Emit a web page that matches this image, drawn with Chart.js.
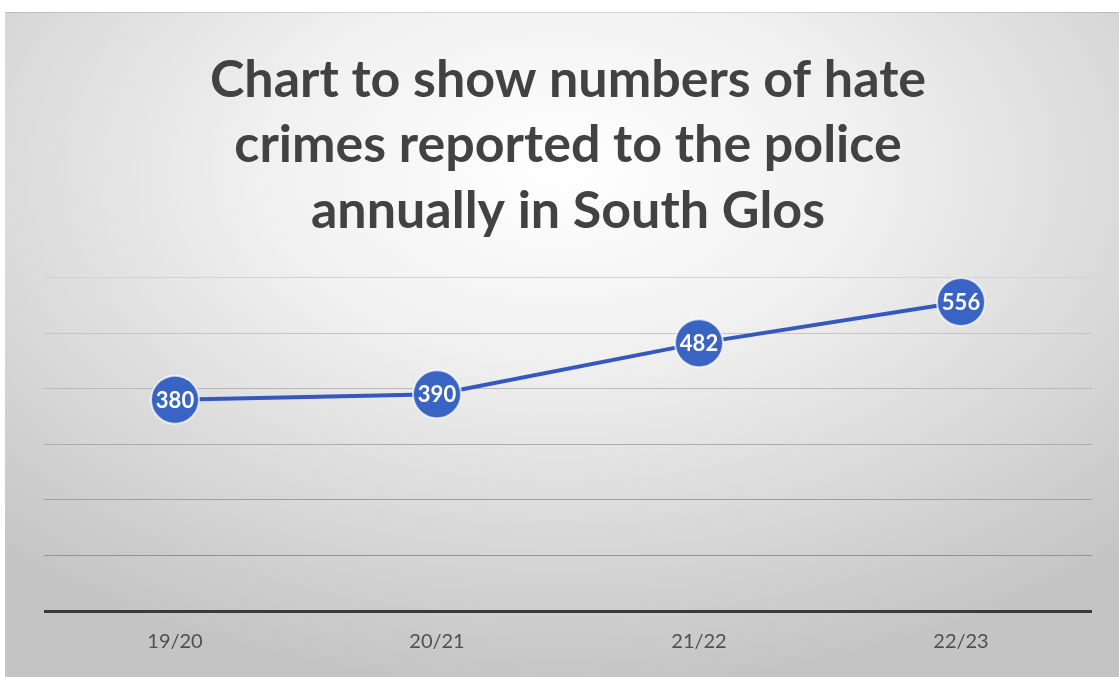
<!DOCTYPE html>
<html>
<head>
<meta charset="utf-8">
<script src="https://cdn.jsdelivr.net/npm/chart.js@4.4.1/dist/chart.umd.min.js"></script>
<style>
  html, body { margin: 0; padding: 0; background: #fff; }
  canvas { display: block; }
</style>
</head>
<body>
<canvas id="hateChart" width="1119" height="677"></canvas>
<script>
// Data
const years = ["19/20", "20/21", "21/22", "22/23"];
const reportedCrimes = [380, 390, 482, 556];
const yMin = 0;
const yMax = 600;
const yStep = 100;

const titleLines = [
    "Chart to show numbers of hate",
    "crimes reported to the police",
    "annually in South Glos"
];

// Soft radial background behind the chart, with a white strip round the frame
const backgroundPlugin = {
    id: "radialBackground",
    beforeDraw(chart) {
        const ctx = chart.ctx;
        const w = chart.width;
        const h = chart.height;
        ctx.save();
        ctx.fillStyle = "#ffffff";
        ctx.fillRect(0, 0, w, h);

        ctx.translate(560, 170);
        ctx.scale(1.6, 1);
        const grad = ctx.createRadialGradient(0, 0, 0, 0, 0, 520);
        grad.addColorStop(0, "#ffffff");
        grad.addColorStop(0.35, "#f1f1f1");
        grad.addColorStop(1, "#c4c4c4");
        ctx.fillStyle = grad;
        ctx.fillRect((5 - 560) / 1.6, 12 - 170, (w - 5) / 1.6, h - 12);
        ctx.restore();

        // thin shadow along the top edge
        ctx.save();
        ctx.fillStyle = "rgba(0,0,0,0.12)";
        ctx.fillRect(5, 12, w - 5, 1);
        ctx.restore();
    }
};

// White value labels inside each point
const valueLabels = {
    id: "valueLabels",
    afterDatasetsDraw(chart) {
        const ctx = chart.ctx;
        const meta = chart.getDatasetMeta(0);
        ctx.save();
        ctx.font = "bold 22px Lato";
        ctx.fillStyle = "#ffffff";
        ctx.textAlign = "center";
        ctx.textBaseline = "middle";
        meta.data.forEach((pt, i) => {
            ctx.fillText(String(reportedCrimes[i]), pt.x, pt.y + 1);
        });
        ctx.restore();
    }
};

// Gridlines get a bit darker towards the bottom
function gridColour(value) {
    if (value === 0) return "#3a3a3a";
    const t = value / yMax;
    const g = Math.round(0x86 + (0xd2 - 0x86) * t);
    return `rgb(${g},${g},${g})`;
}

const ctx = document.getElementById("hateChart").getContext("2d");
new Chart(ctx, {
    type: "line",
    data: {
        labels: years,
        datasets: [{
            data: reportedCrimes,
            borderColor: "#3558c0",
            borderWidth: 4,
            backgroundColor: "#3a64c4",
            pointBackgroundColor: "#3a64c4",
            pointBorderColor: "rgba(255,255,255,0.7)",
            pointBorderWidth: 2,
            pointRadius: 24,
            pointHoverRadius: 24,
            tension: 0,
            clip: false
        }]
    },
    options: {
        responsive: false,
        animation: false,
        devicePixelRatio: 1,
        layout: {
            padding: { left: 44, right: 27, top: 0, bottom: 12 }
        },
        plugins: {
            legend: { display: false },
            tooltip: { enabled: false },
            title: {
                display: true,
                text: titleLines,
                color: "#424242",
                font: { family: "Lato", size: 52, weight: "bold", lineHeight: 1.26 },
                padding: { top: 47, bottom: 34 }
            }
        },
        scales: {
            x: {
                offset: true,
                grid: { display: false },
                border: { display: false },
                ticks: {
                    color: "#505050",
                    font: { family: "Lato", size: 20 },
                    padding: 11
                }
            },
            y: {
                min: yMin,
                max: yMax,
                border: { display: false },
                grid: {
                    drawTicks: false,
                    tickLength: 0,
                    color: c => gridColour(c.tick.value),
                    lineWidth: c => (c.tick.value === 0 ? 3 : 1)
                },
                ticks: { display: false, stepSize: yStep }
            }
        }
    },
    plugins: [backgroundPlugin, valueLabels]
});
</script>
</body>
</html>
